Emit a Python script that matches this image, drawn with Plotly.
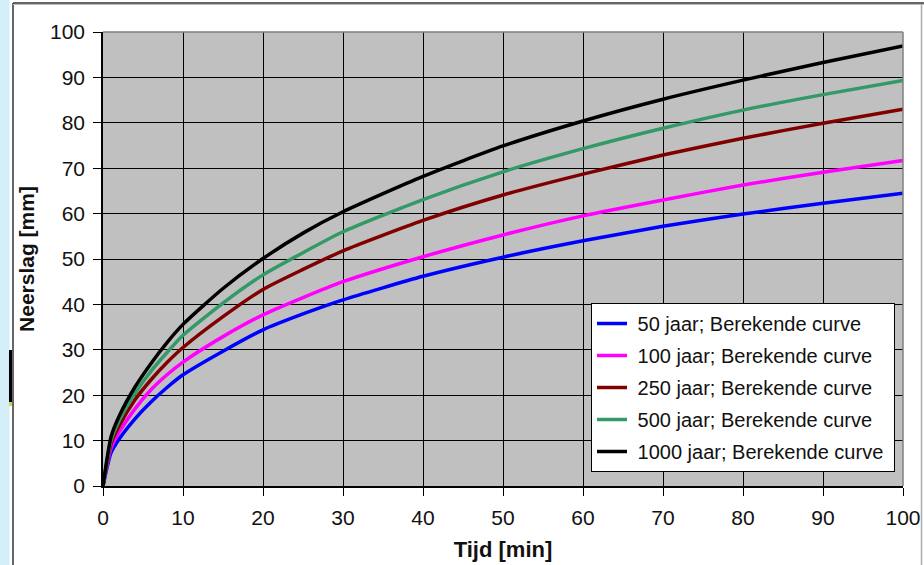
import plotly.graph_objects as go

tijd = [0, 1, 2, 4, 6, 8, 10, 15, 20, 25, 30, 40, 50, 60, 70, 80, 90, 100]

n50 = [0, 7.3, 10.3, 14.8, 18.5, 21.7, 24.5, 29.7, 34.4, 37.9, 41.0, 46.2, 50.4, 54.0, 57.2, 59.9, 62.3, 64.5]
n100 = [0, 8.3, 11.8, 17.0, 21.2, 24.5, 27.3, 32.9, 37.7, 41.5, 45.0, 50.5, 55.3, 59.5, 63.0, 66.3, 69.1, 71.7]
n250 = [0, 9.3, 13.2, 19.0, 23.4, 27.2, 30.5, 37.3, 43.3, 47.7, 51.8, 58.5, 64.1, 68.7, 72.9, 76.6, 79.9, 83.0]
n500 = [0, 10.0, 14.3, 20.4, 25.3, 29.4, 33.2, 40.3, 46.5, 51.4, 56.0, 63.1, 69.2, 74.3, 78.8, 82.8, 86.2, 89.3]
n1000 = [0, 10.8, 15.3, 21.8, 27.0, 31.6, 35.6, 43.5, 50.1, 55.7, 60.4, 68.2, 74.9, 80.4, 85.2, 89.4, 93.3, 96.9]

series = [
    ("50 jaar; Berekende curve", n50, "#0000FF"),
    ("100 jaar; Berekende curve", n100, "#FF00FF"),
    ("250 jaar; Berekende curve", n250, "#800000"),
    ("500 jaar; Berekende curve", n500, "#339966"),
    ("1000 jaar; Berekende curve", n1000, "#000000"),
]

x_ticks = list(range(0, 101, 10))
y_ticks = list(range(0, 101, 10))

fig = go.Figure()
for i, (name, vals, col) in enumerate(series):
    fig.add_trace(go.Scatter(
        x=tijd, y=vals, name="\u00a0" + name + "\u00a0", mode="lines", legendgroup=f"g{i}",
        line=dict(color=col, width=3.5, shape="spline", smoothing=0.6),
    ))

W, H = 924, 565
L, R, T, B = 103, 903, 32, 486

def px(x):
    return (x - L) / (R - L)

def py(y):
    return (B - y) / (B - T)

shapes = [
    dict(type="rect", xref="paper", yref="paper", x0=px(0), x1=px(9.5), y0=py(565), y1=py(0),
         fillcolor="#D4EEF9", line=dict(width=0), layer="below"),
    dict(type="line", xref="paper", yref="paper", x0=px(13), x1=px(13), y0=py(3), y1=py(565),
         line=dict(color="#333333", width=1.5)),
    dict(type="line", xref="paper", yref="paper", x0=px(13), x1=px(924), y0=py(3), y1=py(3),
         line=dict(color="#333333", width=1.5)),
    dict(type="line", xref="paper", yref="paper", x0=px(13), x1=px(924), y0=py(4.5), y1=py(4.5),
         line=dict(color="#BBBBBB", width=1)),
    dict(type="line", xref="paper", yref="paper", x0=px(921.5), x1=px(921.5), y0=py(4), y1=py(565),
         line=dict(color="#AAAAAA", width=1.5)),
    dict(type="rect", xref="paper", yref="paper", x0=px(9), x1=px(12), y0=py(402), y1=py(350),
         fillcolor="#000000", line=dict(width=0)),
    dict(type="rect", xref="paper", yref="paper", x0=px(9), x1=px(12), y0=py(406), y1=py(402),
         fillcolor="#C8D850", line=dict(width=0)),
    dict(type="line", xref="paper", yref="paper", x0=0, x1=1, y0=1, y1=1,
         line=dict(color="#808080", width=1.5)),
    dict(type="line", xref="paper", yref="paper", x0=1, x1=1, y0=0, y1=1,
         line=dict(color="#808080", width=1.5)),
]

font = "Liberation Sans, Arial, sans-serif"

fig.update_layout(
    width=W, height=H,
    margin=dict(l=L, r=W - R, t=T, b=H - B, autoexpand=False),
    paper_bgcolor="white",
    plot_bgcolor="#C0C0C0",
    font=dict(family=font, size=20, color="#000000"),
    showlegend=True,
    legend=dict(
        x=px(591), y=py(303), xanchor="left", yanchor="top",
        bgcolor="white", bordercolor="#000000", borderwidth=1,
        font=dict(family=font, size=20, color="#111111"),
        itemwidth=30, tracegroupgap=3,
    ),
    shapes=shapes,
)

fig.update_xaxes(
    range=[0, 100], tickvals=x_ticks, ticktext=[str(v) for v in x_ticks],
    showgrid=True, gridcolor="#000000", gridwidth=1,
    showline=True, linecolor="#000000", linewidth=1.5,
    ticks="outside", ticklen=8, tickcolor="#000000", tickwidth=1,
    ticklabelstandoff=4,
    zeroline=False, automargin=False,
    tickfont=dict(family=font, size=21, color="#111111"),
    title=dict(text="<b>Tijd [min]</b>", font=dict(family=font, size=22, color="#111111"), standoff=14),
)
fig.update_yaxes(
    range=[0, 100], tickvals=y_ticks, ticktext=[str(v) for v in y_ticks],
    showgrid=True, gridcolor="#000000", gridwidth=1,
    showline=True, linecolor="#000000", linewidth=1.5,
    ticks="outside", ticklen=8, tickcolor="#000000", tickwidth=1,
    ticklabelstandoff=4,
    zeroline=False, automargin=False,
    tickfont=dict(family=font, size=21, color="#111111"),
    title=dict(text="<b>Neerslag [mm]</b>", font=dict(family=font, size=21, color="#111111"), standoff=10),
)

fig.write_html("out.html", config={"displayModeBar": False},
               post_script="document.body.style.margin='0';")
